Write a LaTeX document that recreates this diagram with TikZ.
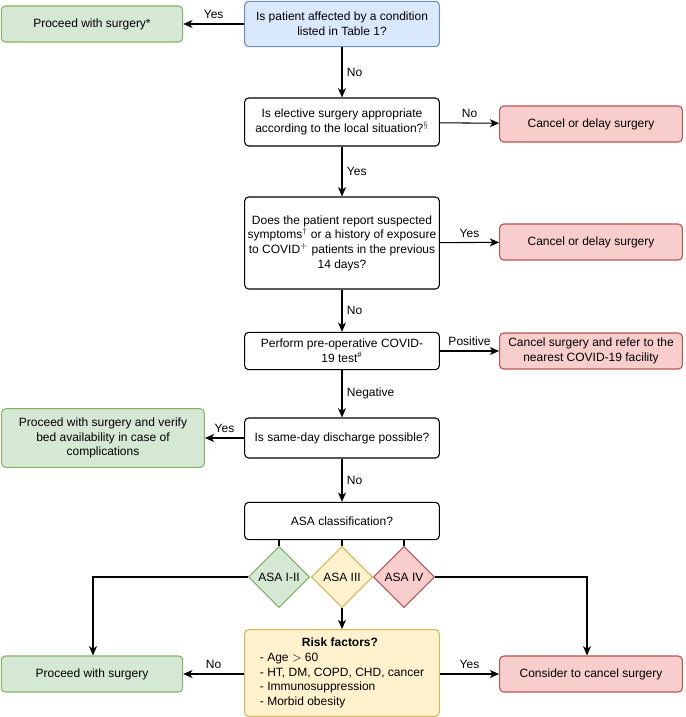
\documentclass[tikz,border=0pt]{standalone}
\usepackage{fontspec}
\setmainfont{Liberation Sans}
\usetikzlibrary{arrows.meta}
\usetikzlibrary{shapes.geometric}

\definecolor{grnfill}{HTML}{D5E8D4}\definecolor{grnline}{HTML}{82B366}
\definecolor{redfill}{HTML}{F8CECC}\definecolor{redline}{HTML}{B85450}
\definecolor{ylwfill}{HTML}{FFF2CC}\definecolor{ylwline}{HTML}{D6B656}
\definecolor{blufill}{HTML}{DAE8FC}\definecolor{bluline}{HTML}{6C8EBF}

\tikzset{
  box/.style={draw, rounded corners=3pt, align=center, inner sep=1pt,
    font=\fontsize{9}{11}\selectfont, line width=0.8pt},
  ask/.style={box, minimum width=146pt},
  go/.style={box, fill=grnfill, draw=grnline, minimum width=136pt, minimum height=27pt},
  stop/.style={box, fill=redfill, draw=redline, minimum width=137pt, minimum height=27pt},
  asa/.style={diamond, draw, line width=0.8pt, minimum size=46pt, inner sep=0pt,
    font=\fontsize{9}{11}\selectfont},
  lbl/.style={font=\fontsize{9}{11}\selectfont},
  flow/.style={-{Stealth[length=7pt,width=6pt,inset=2pt]}, line width=0.8pt}
}

\begin{document}
\begin{tikzpicture}[x=0.75pt, y=-0.75pt]
\useasboundingbox (0,0) rectangle (685,717);
% questions
\node [box, fill=blufill, draw=bluline, minimum width=146pt, minimum height=34pt] (q1) at (342,24)
  {Is patient affected by a condition\\listed in Table 1?};
\node [ask, minimum height=36pt] (q2) at (342,122)
  {Is elective surgery appropriate\\according to the local situation?$^{\S}$};
\node [ask, minimum height=69pt] (q3) at (342,243)
  {Does the patient report suspected\\symptoms$^{\dagger}$ or a history of exposure\\to COVID$^{+}$ patients in the previous\\14 days?};
\node [ask, minimum height=28pt] (q4) at (342,351)
  {Perform pre-operative COVID-\\19 test$^{\#}$};
\node [ask, minimum height=30pt] (q5) at (342,438) {Is same-day discharge possible?};
\node [ask, minimum height=28pt] (q6) at (342,521) {ASA classification?};
% outcomes
\node [go] (o1) at (92,24) {Proceed with surgery*};
\node [stop] (o2) at (591,124) {Cancel or delay surgery};
\node [stop] (o3) at (591,242) {Cancel or delay surgery};
\node [stop] (o4) at (591,351) {Cancel surgery and refer to the\\nearest COVID-19 facility};
\node [go, minimum width=152pt, minimum height=44pt] (o5) at (103,438)
  {Proceed with surgery and verify\\bed availability in case of\\complications};
\node [go] (o6) at (92,674) {Proceed with surgery};
\node [stop] (o7) at (591,674) {Consider to cancel surgery};
% ASA classes
\node [asa, fill=grnfill, draw=grnline] (a1) at (279,577) {ASA I-II};
\node [asa, fill=ylwfill, draw=ylwline] (a2) at (342,577) {ASA III};
\node [asa, fill=redfill, draw=redline] (a3) at (404,577) {ASA IV};
\node [box, fill=ylwfill, draw=ylwline, minimum width=146pt, minimum height=65pt, align=left] (rf) at (342,673)
  {\hspace*{3.5em}\textbf{Risk factors?}\\- Age $>$ 60\\- HT, DM, COPD, CHD, cancer\\- Immunosuppression\\- Morbid obesity};
\coordinate (cl) at (93,577);
\coordinate (cr) at (587,577);
% connectors
\draw [flow] (q1) -- (o1) node [lbl, midway, above] {Yes};
\draw [flow] (q1) -- (q2) node [lbl, midway, right] {No};
\draw [flow] (q2) -- (o2) node [lbl, midway, above] {No};
\draw [flow] (q2) -- (q3) node [lbl, midway, right] {Yes};
\draw [flow] (q3) -- (o3) node [lbl, midway, above] {Yes};
\draw [flow] (q3) -- (q4) node [lbl, midway, right] {No};
\draw [flow] (q4) -- (o4) node [lbl, midway, above] {Positive};
\draw [flow] (q4) -- (q5) node [lbl, midway, right] {Negative};
\draw [flow] (q5) -- (o5) node [lbl, midway, above] {Yes};
\draw [flow] (q5) -- (q6) node [lbl, midway, right] {No};
\draw [line width=0.8pt] (q6.south -| a1) -- (a1.north);
\draw [line width=0.8pt] (q6) -- (a2.north);
\draw [line width=0.8pt] (q6.south -| a3) -- (a3.north);
\draw [flow] (a1.west) -- (cl) -- (o6.north -| cl);
\draw [flow] (a3.east) -- (cr) -- (o7.north -| cr);
\draw [flow] (a2) -- (rf);
\draw [flow] (rf.west |- o6) -- (o6) node [lbl, midway, above] {No};
\draw [flow] (rf.east |- o7) -- (o7) node [lbl, midway, above] {Yes};
\end{tikzpicture}
\end{document}
